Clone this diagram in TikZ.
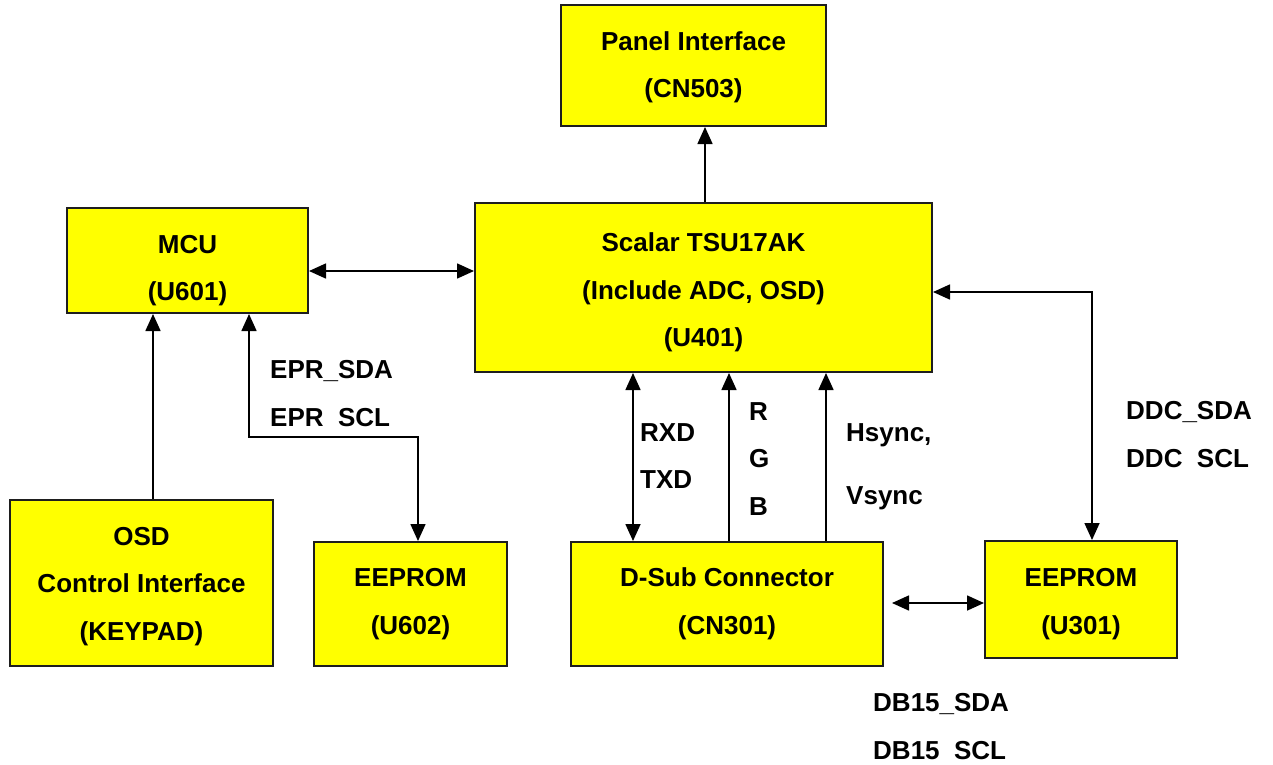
\documentclass[tikz,border=0pt]{standalone}
\usepackage{fontspec}
\setmainfont{Liberation Sans}
\usetikzlibrary{arrows.meta}
\definecolor{boxyellow}{RGB}{255,255,0}
\definecolor{edge}{RGB}{30,30,30}
\begin{document}
\begin{tikzpicture}[x=1pt,y=-1pt,
  blk/.style={draw=edge,line width=2pt,fill=boxyellow,inner sep=0pt},
  btxt/.style={align=center,inner sep=0pt,font=\bfseries\fontsize{26}{47.5}\selectfont},
  lbl/.style={anchor=base west,inner sep=0pt,font=\bfseries\fontsize{26}{30}\selectfont},
  wire/.style={line width=1.6pt,draw=black},
  tip/.style={-{Triangle[length=17pt,width=15pt]}},
  tips/.style={{Triangle[length=17pt,width=15pt]}-{Triangle[length=17pt,width=15pt]}}
]
\useasboundingbox (0,0) rectangle (1273,764);
% boxes
\node[blk,minimum width=265,minimum height=121] (panel) at (693.5,65.5) {};
\node[btxt] (panelt) at (693.5,67.5) {Panel Interface\\(CN503)};
\node[blk,minimum width=457,minimum height=169] (scalar) at (703.5,287.5) {};
\node[btxt] (scalart) at (703.5,292.5) {Scalar TSU17AK\\(Include ADC, OSD)\\(U401)};
\node[blk,minimum width=241,minimum height=105] (mcu) at (187.5,260.5) {};
\node[btxt] (mcut) at (187.5,270.5) {MCU\\(U601)};
\node[blk,minimum width=263,minimum height=166] (osd) at (141.5,583) {};
\node[btxt] (osdt) at (141.5,586.5) {OSD\\Control Interface\\(KEYPAD)};
\node[blk,minimum width=193,minimum height=124] (u602) at (410.5,604) {};
\node[btxt] (u602t) at (410.5,604) {EEPROM\\(U602)};
\node[blk,minimum width=312,minimum height=124] (dsub) at (727,604) {};
\node[btxt] (dsubt) at (727,604) {D-Sub Connector\\(CN301)};
\node[blk,minimum width=192,minimum height=117] (u301) at (1081,599.5) {};
\node[btxt] (u301t) at (1081,604) {EEPROM\\(U301)};
% helper coordinates
\coordinate (px) at (705,0);
\coordinate (py) at (0,271);
\coordinate (ox) at (153,0);
\coordinate (e1) at (249,437);
\coordinate (e2) at (418,437);
\coordinate (r1) at (633,0);
\coordinate (r2) at (729,0);
\coordinate (r3) at (826,0);
\coordinate (d1) at (1092,292);
\coordinate (db1) at (892,603);
% connectors
\draw[wire,tip] (scalar.north -| px) -- (panel.south -| px);
\draw[wire,tips] (mcu.east |- py) -- (scalar.west |- py);
\draw[wire,tip] (osd.north -| ox) -- (mcu.south -| ox);
\draw[wire,tips] (mcu.south -| e1) -- (e1) -- (e2) -- (u602.north -| e2);
\draw[wire,tips] (dsub.north -| r1) -- (scalar.south -| r1);
\draw[wire,tip] (dsub.north -| r2) -- (scalar.south -| r2);
\draw[wire,tip] (dsub.north -| r3) -- (scalar.south -| r3);
\draw[wire,tips] (scalar.east |- d1) -- (d1) -- (u301.north -| d1);
\draw[wire,tips] (db1) -- (u301.west |- db1);
% labels
\node[lbl] (l1) at (270,378.3) {EPR\_SDA};
\node[lbl] (l2) at (270,426.3) {EPR\phantom{\_}SCL};
\node[lbl] (l3) at (640,441.3) {RXD};
\node[lbl] (l4) at (640,488.3) {TXD};
\node[lbl] (l5) at (749,420.3) {R};
\node[lbl] (l6) at (749,467.3) {G};
\node[lbl] (l7) at (749,515.3) {B};
\node[lbl] (l8) at (846,441.3) {Hsync,};
\node[lbl] (l9) at (846,504.3) {Vsync};
\node[lbl] (l10) at (1126,419.3) {DDC\_SDA};
\node[lbl] (l11) at (1126,467.3) {DDC\phantom{\_}SCL};
\node[lbl] (l12) at (873,711.3) {DB15\_SDA};
\node[lbl] (l13) at (873,759.3) {DB15\phantom{\_}SCL};
\end{tikzpicture}
\end{document}
